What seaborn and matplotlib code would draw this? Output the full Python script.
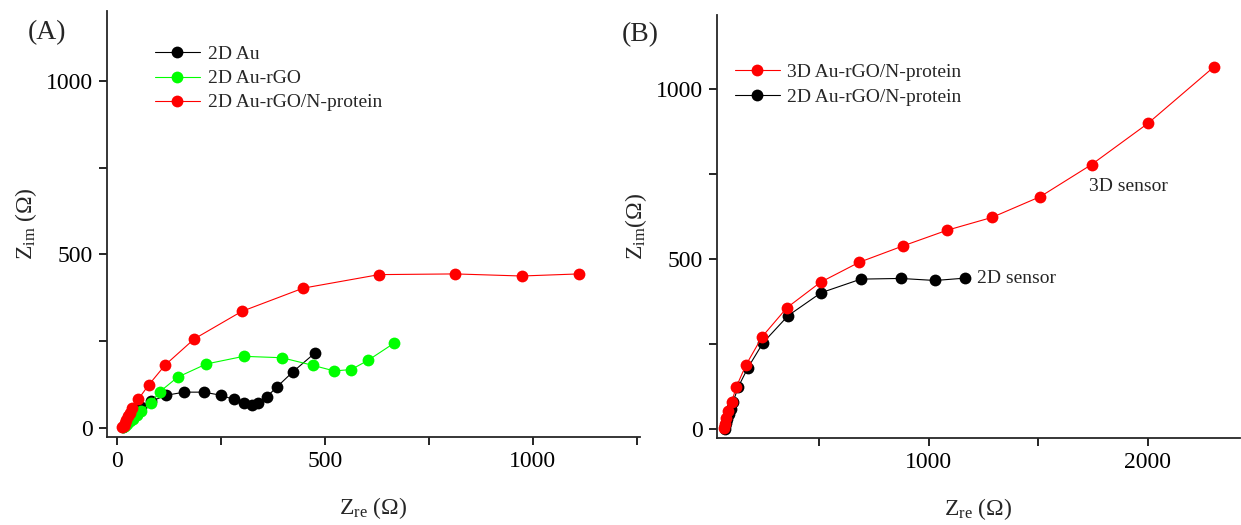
import matplotlib
matplotlib.use("Agg")
import matplotlib.pyplot as plt
from matplotlib.ticker import MultipleLocator
from matplotlib.lines import Line2D
import seaborn as sns

# ---------------- data ----------------
# Panel A
a_au_x = [14, 18, 24, 30, 37, 45, 58, 82, 117, 161, 208, 250, 280, 304, 323, 339, 360, 385, 422, 476]
a_au_y = [4, 10, 18, 28, 38, 50, 62, 78, 95, 104, 104, 95, 83, 72, 68, 74, 91, 120, 162, 217]
a_rgo_x = [14, 18, 24, 30, 38, 47, 57, 80, 102, 145, 214, 304, 396, 471, 522, 563, 604, 665]
a_rgo_y = [3, 7, 13, 20, 28, 37, 50, 72, 105, 147, 185, 207, 203, 181, 165, 169, 196, 244]
a_np_x = [12, 15, 18, 22, 26, 30, 36, 50, 75, 115, 185, 299, 447, 630, 813, 973, 1111]
a_np_y = [3, 8, 15, 25, 35, 45, 57, 83, 124, 182, 257, 336, 403, 442, 444, 438, 444]
a_labels = ["2D Au", "2D Au-rGO", "2D Au-rGO/N-protein"]

# Panel B
b_3d_x = [62, 68, 75, 84, 99, 120, 164, 238, 351, 505, 680, 880, 1081, 1288, 1509, 1743, 2001, 2303]
b_3d_y = [5, 15, 35, 55, 81, 125, 189, 272, 357, 432, 490, 538, 584, 622, 683, 777, 898, 1064]
b_2d_x = [68, 70, 74, 78, 85, 95, 106, 129, 173, 243, 357, 507, 689, 871, 1028, 1167]
b_2d_y = [2, 10, 20, 32, 45, 59, 82, 125, 181, 255, 334, 401, 441, 443, 437, 444]
b_labels = ["3D Au-rGO/N-protein", "2D Au-rGO/N-protein"]

# ---------------- style ----------------
sns.set_theme(style="ticks")
plt.rcParams["font.family"] = ["Liberation Serif", "DejaVu Serif"]
plt.rcParams["mathtext.fontset"] = "custom"
plt.rcParams["mathtext.rm"] = "Liberation Serif"
plt.rcParams["mathtext.it"] = "Liberation Serif:italic"
plt.rcParams["axes.linewidth"] = 1.3

fig = plt.figure(figsize=(12.41, 5.25), dpi=100)
axA = fig.add_axes([0.0862, 0.1676, 0.4295, 0.8114])
axB = fig.add_axes([0.5778, 0.1657, 0.4212, 0.8053])

ms = 8.5
lw = 0.8

def draw(ax, x, y, color):
    sns.lineplot(x=x, y=y, ax=ax, sort=False, estimator=None, color=color,
                 marker="o", markersize=ms, markeredgewidth=0, linewidth=lw)

draw(axA, a_au_x, a_au_y, "black")
draw(axA, a_rgo_x, a_rgo_y, "#00ff00")
draw(axA, a_np_x, a_np_y, "red")

draw(axB, b_2d_x, b_2d_y, "black")
draw(axB, b_3d_x, b_3d_y, "red")

for ax in (axA, axB):
    sns.despine(ax=ax)
    ax.tick_params(which="both", direction="out", length=6, width=1.2,
                   labelsize=17, pad=4, colors="black")
    ax.yaxis.set_major_locator(MultipleLocator(500))
    ax.yaxis.set_minor_locator(MultipleLocator(250))
    ax.set_ylabel("Z$_{\\mathrm{im}}$ (Ω)", fontsize=17, labelpad=5)
    ax.set_xlabel("Z$_{\\mathrm{re}}$ (Ω)", fontsize=17, labelpad=17)

axA.set_xlim(-25, 1258)
axA.set_ylim(-25, 1200)
axA.xaxis.set_major_locator(MultipleLocator(500))
axA.xaxis.set_minor_locator(MultipleLocator(250))

axB.set_xlim(32, 2420)
axB.set_ylim(-25, 1215)
axB.xaxis.set_major_locator(MultipleLocator(1000))
axB.xaxis.set_minor_locator(MultipleLocator(500))
axB.set_ylabel("Z$_{\\mathrm{im}}$(Ω)", fontsize=17, labelpad=5)

# legends
def handle(color):
    return Line2D([0], [0], color=color, linewidth=lw, marker="o",
                  markersize=ms, markeredgewidth=0)

axA.legend([handle("black"), handle("#00ff00"), handle("red")], a_labels,
           loc="upper left", bbox_to_anchor=(0.1249, 0.913), bbox_transform=fig.transFigure,
           frameon=False, fontsize=14, handlelength=2.3, handletextpad=0.4,
           labelspacing=0.33, borderpad=0, borderaxespad=0)
axB.legend([handle("red"), handle("black")], b_labels,
           loc="upper left", bbox_to_anchor=(0.5922, 0.880), bbox_transform=fig.transFigure,
           frameon=False, fontsize=14, handlelength=2.3, handletextpad=0.4,
           labelspacing=0.38, borderpad=0, borderaxespad=0)

# annotations
axB.text(1732, 713, "3D sensor", fontsize=14, va="center", ha="left")
axB.text(1220, 443, "2D sensor", fontsize=14, va="center", ha="left")

fig.text(0.0226, 0.937, "(A)", fontsize=20, va="center", ha="left")
fig.text(0.501, 0.935, "(B)", fontsize=20, va="center", ha="left")

fig.savefig("out.png", dpi=100)
